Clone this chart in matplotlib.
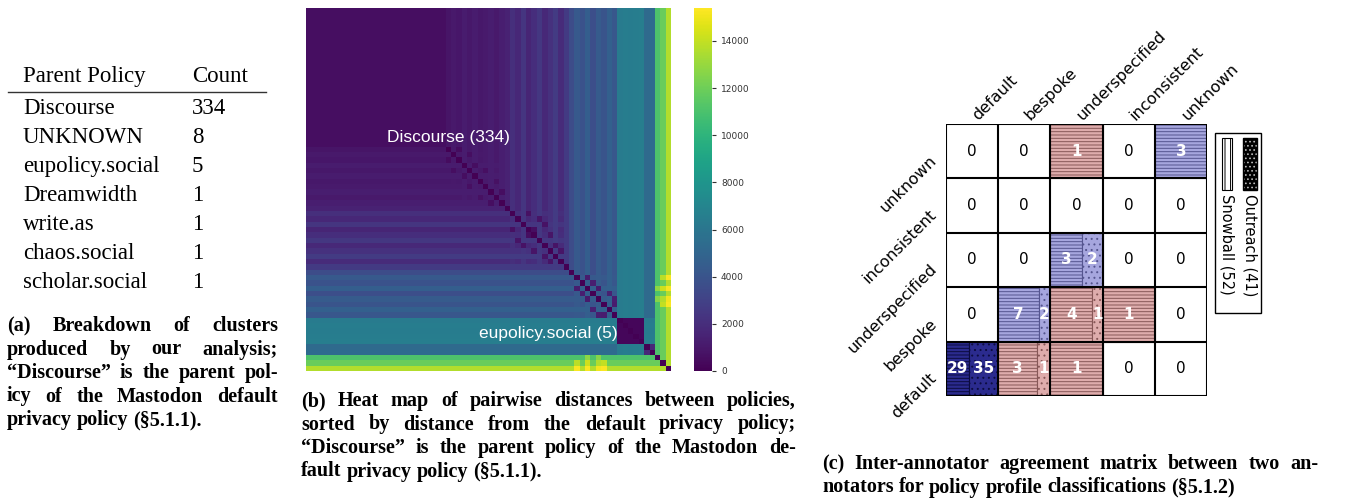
import matplotlib
matplotlib.use('Agg')
import matplotlib.pyplot as plt
import numpy as np
from matplotlib.patches import Rectangle
from matplotlib.lines import Line2D

W, H = 1353, 504
SERIF = 'Liberation Serif'
SANS = 'Liberation Sans'

# ---------------------------------------------------------------
#  (a) cluster breakdown table
# ---------------------------------------------------------------
policy_names = ["Discourse", "UNKNOWN", "eupolicy.social", "Dreamwidth",
                "write.as", "chaos.social", "scholar.social"]
policy_counts = [334, 8, 5, 1, 1, 1, 1]

# ---------------------------------------------------------------
#  (b) pairwise distance heat map, policies sorted by distance
#      from the default policy (one entry per matrix cell)
# ---------------------------------------------------------------
policy_levels = [
    520, 480, 540, 500, 560, 510, 530, 490, 550, 520, 580, 500, 540,
    560, 510, 590, 530, 570, 520, 600, 550, 580, 610, 560, 620, 640,
    900, 1050, 950, 1150, 1000, 1200, 980, 1100, 1250, 1050, 1300,
    1500, 2100, 1700, 2400, 1600, 2000, 2500, 1800, 2200, 2700, 1900, 2600,
    3600, 4300, 3900, 4600, 3700, 4400, 4000, 4700, 4200,
    6400, 6500, 6450, 6550, 6600,
    5300, 5400,
    11100, 11900, 13600,
]
# clusters of near-identical policies (start cell, end cell, distance inside)
tight_clusters = [(0, 25, 560), (58, 62, 300), (63, 64, 1800)]
# individual pairs that are much closer / further apart than their rows suggest
close_pairs = [(26, 28, 500), (27, 30, 600), (29, 31, 550), (30, 33, 650),
               (32, 35, 700), (34, 36, 600), (38, 41, 700), (39, 43, 800),
               (40, 44, 750), (41, 42, 600), (42, 45, 900), (44, 46, 800),
               (45, 47, 850), (50, 52, 1200), (51, 53, 1300), (52, 54, 1100),
               (53, 56, 1400), (55, 57, 1200), (54, 57, 1300)]
far_pairs = [(67, 50, 15300), (67, 52, 15300), (67, 54, 15100), (67, 55, 15300),
             (66, 50, 13800), (66, 52, 14200), (66, 54, 13600), (66, 55, 14000),
             (65, 52, 12800), (65, 54, 12600)]
cbar_ticks = [0, 2000, 4000, 6000, 8000, 10000, 12000, 14000]
cbar_max = 15400

# ---------------------------------------------------------------
#  (c) inter-annotator agreement, rows = y label, cols = x label
# ---------------------------------------------------------------
classes = ["default", "bespoke", "underspecified", "inconsistent", "unknown"]
snowball = [[29, 3, 1, 0, 0],
            [0, 7, 4, 1, 0],
            [0, 0, 3, 0, 0],
            [0, 0, 0, 0, 0],
            [0, 0, 1, 0, 3]]
outreach = [[35, 1, 0, 0, 0],
            [0, 2, 1, 0, 0],
            [0, 0, 2, 0, 0],
            [0, 0, 0, 0, 0],
            [0, 0, 0, 0, 0]]


fig = plt.figure(figsize=(W / 100, H / 100), dpi=100)
plt.rcParams['hatch.linewidth'] = 0.7


def px_axes(x0, y0, x1, y1):
    """Axes placed by pixel box (top-left origin)."""
    return fig.add_axes([x0 / W, 1 - y1 / H, (x1 - x0) / W, (y1 - y0) / H])


def fx(x):
    return x / W


def fy(y):
    return 1 - y / H


def caption(lines, x0, x1, y_base, dy, size=14.5):
    """Bold serif caption, justified except for the last line."""
    r = fig.canvas.get_renderer()
    kw = dict(family=SERIF, fontweight='bold', fontsize=size,
              va='baseline', ha='left')
    probe = fig.text(0, 0, 'a a', **kw)
    w2 = probe.get_window_extent(r).width
    probe.set_text('aa')
    space = w2 - probe.get_window_extent(r).width
    probe.remove()
    for k, line in enumerate(lines):
        y = fy(y_base + k * dy)
        words = line.split(' ')
        items = [fig.text(0, y, w, **kw) for w in words]
        widths = [t.get_window_extent(r).width for t in items]
        last = k == len(lines) - 1
        if last or len(words) == 1:
            gap = space
        else:
            gap = max((x1 - x0 - sum(widths)) / (len(words) - 1), 0.6 * space)
        x = x0
        for t, w in zip(items, widths):
            t.set_x(fx(x))
            x += w + gap


# ================================================================
#  (a) table
# ================================================================
fig.text(fx(23), fy(82), "Parent Policy", family=SERIF, fontsize=16.5, va='baseline')
fig.text(fx(192), fy(82), "Count", family=SERIF, fontsize=16.5, va='baseline')
fig.add_artist(Line2D([fx(8), fx(266)], [fy(92), fy(92)], color='#333333',
                      lw=1.0, transform=fig.transFigure))
for k, (name, cnt) in enumerate(zip(policy_names, policy_counts)):
    yb = 114 + 29.0 * k
    fig.text(fx(23), fy(yb), name, family=SERIF, fontsize=16.5, va='baseline')
    fig.text(fx(192), fy(yb), str(cnt), family=SERIF, fontsize=16.5, va='baseline')

caption(["(a) Breakdown of clusters",
         "produced by our analysis;",
         "\u201cDiscourse\u201d is the parent pol-",
         "icy of the Mastodon default",
         "privacy policy (\u00a75.1.1)."],
        7, 278, 331, 23.5)

# ================================================================
#  (b) heat map
# ================================================================
lv = np.array(policy_levels, dtype=float)
dist = np.maximum.outer(lv, lv)
np.fill_diagonal(dist, 0)
for a, b, v in tight_clusters:
    dist[a:b + 1, a:b + 1] = v
for i, j, v in close_pairs + far_pairs:
    dist[i, j] = dist[j, i] = v
for a, b, v in tight_clusters[1:]:
    dist[range(a, b + 1), range(a, b + 1)] = 0

ax_h = px_axes(306, 8, 671, 371)
im = ax_h.imshow(dist, cmap='viridis', vmin=0, vmax=cbar_max,
                 interpolation='nearest', aspect='auto')
ax_h.set_axis_off()
ax_h.text(26.1, 23.7, "Discourse (334)", color='white', family=SANS,
          fontsize=12.5, ha='center', va='center')
ax_h.text(57.6, 60.4, "eupolicy.social (5)", color='white', family=SANS,
          fontsize=12.5, ha='right', va='center')

cax = px_axes(694, 8, 712, 371)
cb = fig.colorbar(im, cax=cax)
cb.outline.set_visible(False)
cb.set_ticks(cbar_ticks)
cax.tick_params(labelsize=6.5, colors='#333333', length=3, width=0.8)
for lab in cax.get_yticklabels():
    lab.set_family('DejaVu Sans')

caption(["(b) Heat map of pairwise distances between policies,",
         "sorted by distance from the default privacy policy;",
         "\u201cDiscourse\u201d is the parent policy of the Mastodon de-",
         "fault privacy policy (\u00a75.1.1)."],
        301, 796, 406, 23.5)

# ================================================================
#  (c) agreement matrix
# ================================================================
ax_c = px_axes(945.7, 124, 1207.3, 396)
ax_c.set_xlim(0, 5)
ax_c.set_ylim(0, 5)
ax_c.set_axis_off()

n = len(classes)
for r in range(n):
    for c in range(n):
        s, o = snowball[r][c], outreach[r][c]
        total = s + o
        if total == 0:
            ax_c.text(c + 0.5, r + 0.5, "0", ha='center', va='center',
                      fontsize=11, color='black', family='DejaVu Sans')
            continue
        if r == c and total > 20:
            face, edge = '#2b2b8e', '#0c0c40'
        elif r == c:
            face, edge = '#a6a6de', '#55558f'
        else:
            face, edge = '#deacac', '#875757'
        x = c
        for val, hatch in ((s, '-----'), (o, '...')):
            if val == 0:
                continue
            w = val / total
            ax_c.add_patch(Rectangle((x, r), w, 1, facecolor=face, edgecolor=edge,
                                     hatch=hatch, lw=0.8, zorder=1))
            ax_c.text(x + w / 2, r + 0.5, str(val), ha='center', va='center',
                      fontsize=11, color='white', fontweight='bold',
                      family='DejaVu Sans', zorder=3)
            x += w

for k in range(n + 1):
    ax_c.plot([k, k], [0, n], color='black', lw=1.5, zorder=2,
              solid_capstyle='projecting')
    ax_c.plot([0, n], [k, k], color='black', lw=1.5, zorder=2,
              solid_capstyle='projecting')

for c, name in enumerate(classes):
    ax_c.text(c + 0.56, n + 0.12, name, rotation=45, rotation_mode='anchor',
              ha='left', va='center', fontsize=11.5, family='DejaVu Sans',
              clip_on=False)
for r, name in enumerate(classes):
    ax_c.text(-0.22, r + 0.38, name, rotation=45, rotation_mode='anchor',
              ha='right', va='center', fontsize=11.5, family='DejaVu Sans',
              clip_on=False)

# legend, rotated to read top to bottom
fig.add_artist(Rectangle((fx(1215), fy(313)), 46 / W, 180 / H, transform=fig.transFigure,
                         facecolor='white', edgecolor='black', lw=1.0))
fig.add_artist(Rectangle((fx(1222), fy(190)), 10 / W, 52 / H, transform=fig.transFigure,
                         facecolor='white', edgecolor='black', hatch='|||', lw=0.8))
fig.add_artist(Rectangle((fx(1243), fy(190)), 14 / W, 52 / H, transform=fig.transFigure,
                         facecolor='black', edgecolor='#bbbbbb', hatch='....', lw=0.0))
fig.add_artist(Rectangle((fx(1243), fy(190)), 14 / W, 52 / H, transform=fig.transFigure,
                         facecolor='none', edgecolor='black', lw=1.0))
fig.text(fx(1227), fy(194), "Snowball (52)", rotation=270, ha='center', va='top',
         fontsize=10.5, family='DejaVu Sans')
fig.text(fx(1250), fy(194), "Outreach (41)", rotation=270, ha='center', va='top',
         fontsize=10.5, family='DejaVu Sans')

caption(["(c) Inter-annotator agreement matrix between two an-",
         "notators for policy profile classifications (\u00a75.1.2)"],
        822, 1318, 469, 23.5)

fig.savefig('out.png', dpi=100)
